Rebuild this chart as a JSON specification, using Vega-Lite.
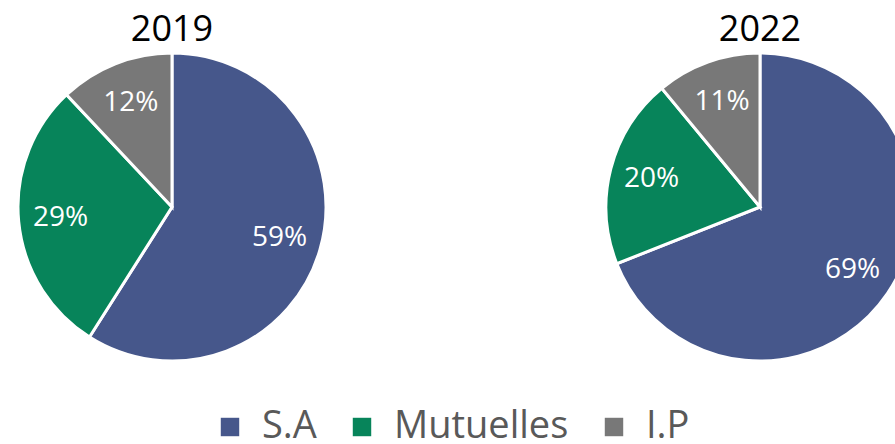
{
  "$schema": "https://vega.github.io/schema/vega-lite/v6.json",
  "padding": {"left": 12, "top": 12, "right": 0, "bottom": 0},
  "background": "white",
  "config": {"view": {"stroke": null}, "font": "Open Sans"},
  "data": {"values": [
    {"year": "2019", "category": "S.A", "ord": 1, "value": 59, "label": "59%"},
    {"year": "2019", "category": "Mutuelles", "ord": 2, "value": 29, "label": "29%"},
    {"year": "2019", "category": "I.P", "ord": 3, "value": 12, "label": "12%"},
    {"year": "2022", "category": "S.A", "ord": 1, "value": 69, "label": "69%"},
    {"year": "2022", "category": "Mutuelles", "ord": 2, "value": 20, "label": "20%"},
    {"year": "2022", "category": "I.P", "ord": 3, "value": 11, "label": "11%"}
  ]},
  "facet": {"column": {"field": "year", "type": "nominal", "title": null,
    "header": {"labelFontSize": 36, "labelColor": "#000000", "labelFont": "Open Sans", "labelPadding": -2}}},
  "spacing": 268,
  "spec": {
    "width": 308,
    "height": 308,
    "encoding": {
      "theta": {"field": "value", "type": "quantitative", "stack": true},
      "order": {"field": "ord", "type": "ordinal"}
    },
    "layer": [
      {"mark": {"type": "arc", "outerRadius": 154, "stroke": "white", "strokeWidth": 3},
       "encoding": {"color": {"field": "category", "type": "nominal",
         "scale": {"domain": ["S.A", "Mutuelles", "I.P"], "range": ["#46578B", "#07845A", "#787878"]},
         "legend": {"title": null, "orient": "none", "legendX": 193, "legendY": 355, "direction": "horizontal", "symbolType": "square",
           "symbolSize": 340, "symbolStrokeWidth": 0, "labelFontSize": 38, "labelColor": "#595959", "labelLimit": 400,
           "labelFont": "Open Sans", "columnPadding": 26, "labelOffset": 13, "padding": 0}}}},
      {"mark": {"type": "text", "radius": 112, "fontSize": 28, "fill": "white", "font": "Open Sans"},
       "encoding": {"text": {"field": "label", "type": "nominal"}}}
    ]
  }
}
